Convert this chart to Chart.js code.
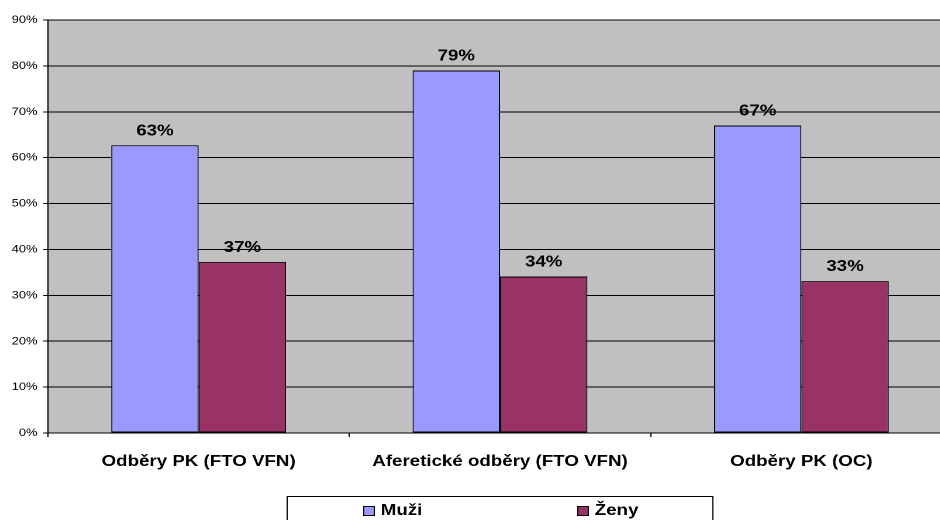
<!DOCTYPE html>
<html lang="cs">
<head>
<meta charset="utf-8">
<title>Odběry podle pohlaví</title>
<script src="https://cdn.jsdelivr.net/npm/chart.js@4/dist/chart.umd.min.js"></script>
<style>
  html, body { margin: 0; padding: 0; background: #ffffff; overflow: hidden; }
  #stage { width: 940px; height: 520px; overflow: hidden; position: relative; }
  /* the chart is laid out on a narrower canvas and widened horizontally */
  #wrap { position: absolute; left: 0; top: 0; width: 855px; height: 520px;
          transform: scaleX(1.1696); transform-origin: 0 0; }
</style>
</head>
<body>
<div id="stage"><div id="wrap"><canvas id="chart" width="855" height="520"></canvas></div></div>
<script>
// Categories and series values (percent)
const categories = ['Odběry PK (FTO VFN)', 'Aferetické odběry (FTO VFN)', 'Odběry PK (OC)'];
const seriesNames = ['Muži', 'Ženy'];
const muzi = [62.7, 79.0, 67.0];
const zeny = [37.3, 34.1, 33.1];
const yTicks = [0, 10, 20, 30, 40, 50, 60, 70, 80, 90];

const colors = ['#9999ff', '#993366'];
const FONT = '"Liberation Sans", Arial, Helvetica, sans-serif';

// grey plot area behind the bars
const plotBackground = {
  id: 'plotBackground',
  beforeDraw(chart) {
    const { ctx, chartArea: a } = chart;
    ctx.save();
    ctx.fillStyle = '#c0c0c0';
    ctx.fillRect(a.left, a.top, a.right - a.left, a.bottom - a.top);
    ctx.restore();
  }
};

// rounded percentage above every bar
const valueLabels = {
  id: 'valueLabels',
  afterDatasetsDraw(chart) {
    const { ctx } = chart;
    ctx.save();
    ctx.font = 'bold 16px ' + FONT;
    ctx.fillStyle = '#000000';
    ctx.textAlign = 'center';
    ctx.textBaseline = 'alphabetic';
    chart.data.datasets.forEach((ds, i) => {
      chart.getDatasetMeta(i).data.forEach((bar, j) => {
        ctx.fillText(Math.round(ds.data[j]) + '%', bar.x, bar.y - 10);
      });
    });
    ctx.restore();
  }
};

// boxed legend below the category labels
const boxedLegend = {
  id: 'boxedLegend',
  afterDraw(chart) {
    const { ctx, chartArea: a } = chart;
    const cx = (a.left + a.right) / 2;
    ctx.save();
    ctx.strokeStyle = '#000000';
    ctx.lineWidth = 1;
    ctx.strokeRect(cx - 182, 496.5, 364, 40);
    const offsets = [[-117, -102], [66, 81]];
    ctx.font = 'bold 16px ' + FONT;
    ctx.textBaseline = 'middle';
    ctx.textAlign = 'left';
    chart.data.datasets.forEach((ds, i) => {
      const [bx, tx] = offsets[i];
      ctx.fillStyle = ds.backgroundColor;
      ctx.fillRect(cx + bx, 506, 10, 10);
      ctx.strokeStyle = '#000000';
      ctx.strokeRect(cx + bx + 0.5, 506.5, 9, 9);
      ctx.fillStyle = '#000000';
      ctx.fillText(ds.label, cx + tx, 510.5);
    });
    ctx.restore();
  }
};

new Chart(document.getElementById('chart'), {
  type: 'bar',
  data: {
    labels: categories,
    datasets: [
      { label: seriesNames[0], data: muzi, backgroundColor: colors[0] },
      { label: seriesNames[1], data: zeny, backgroundColor: colors[1] }
    ]
  },
  options: {
    responsive: false,
    animation: false,
    devicePixelRatio: 2,
    layout: { padding: { top: 20, right: 41, bottom: 0, left: 0 } },
    datasets: {
      bar: {
        borderColor: '#000000',
        borderWidth: 1,
        borderSkipped: false,
        categoryPercentage: 0.58,
        barPercentage: 1
      }
    },
    plugins: {
      legend: { display: false },
      tooltip: { enabled: false }
    },
    scales: {
      x: {
        offset: true,
        grid: {
          offset: true,
          drawOnChartArea: false,
          drawTicks: true,
          tickLength: 4,
          color: '#000000'
        },
        border: { color: '#000000', width: 1 },
        ticks: {
          color: '#000000',
          padding: 15,
          maxRotation: 0,
          autoSkip: false,
          font: { family: FONT, size: 16, weight: 'bold' }
        },
        afterFit(scale) { scale.height = 87; }
      },
      y: {
        min: 0,
        max: 90,
        afterBuildTicks(scale) { scale.ticks = yTicks.map(v => ({ value: v })); },
        grid: {
          color: '#000000',
          lineWidth: 1,
          drawTicks: true,
          tickLength: 4
        },
        border: { color: '#000000', width: 1 },
        ticks: {
          color: '#000000',
          padding: 5,
          font: { family: FONT, size: 11 },
          callback: v => v + '%'
        },
        afterFit(scale) { scale.width = 41; }
      }
    }
  },
  plugins: [plotBackground, valueLabels, boxedLegend]
});
</script>
</body>
</html>
